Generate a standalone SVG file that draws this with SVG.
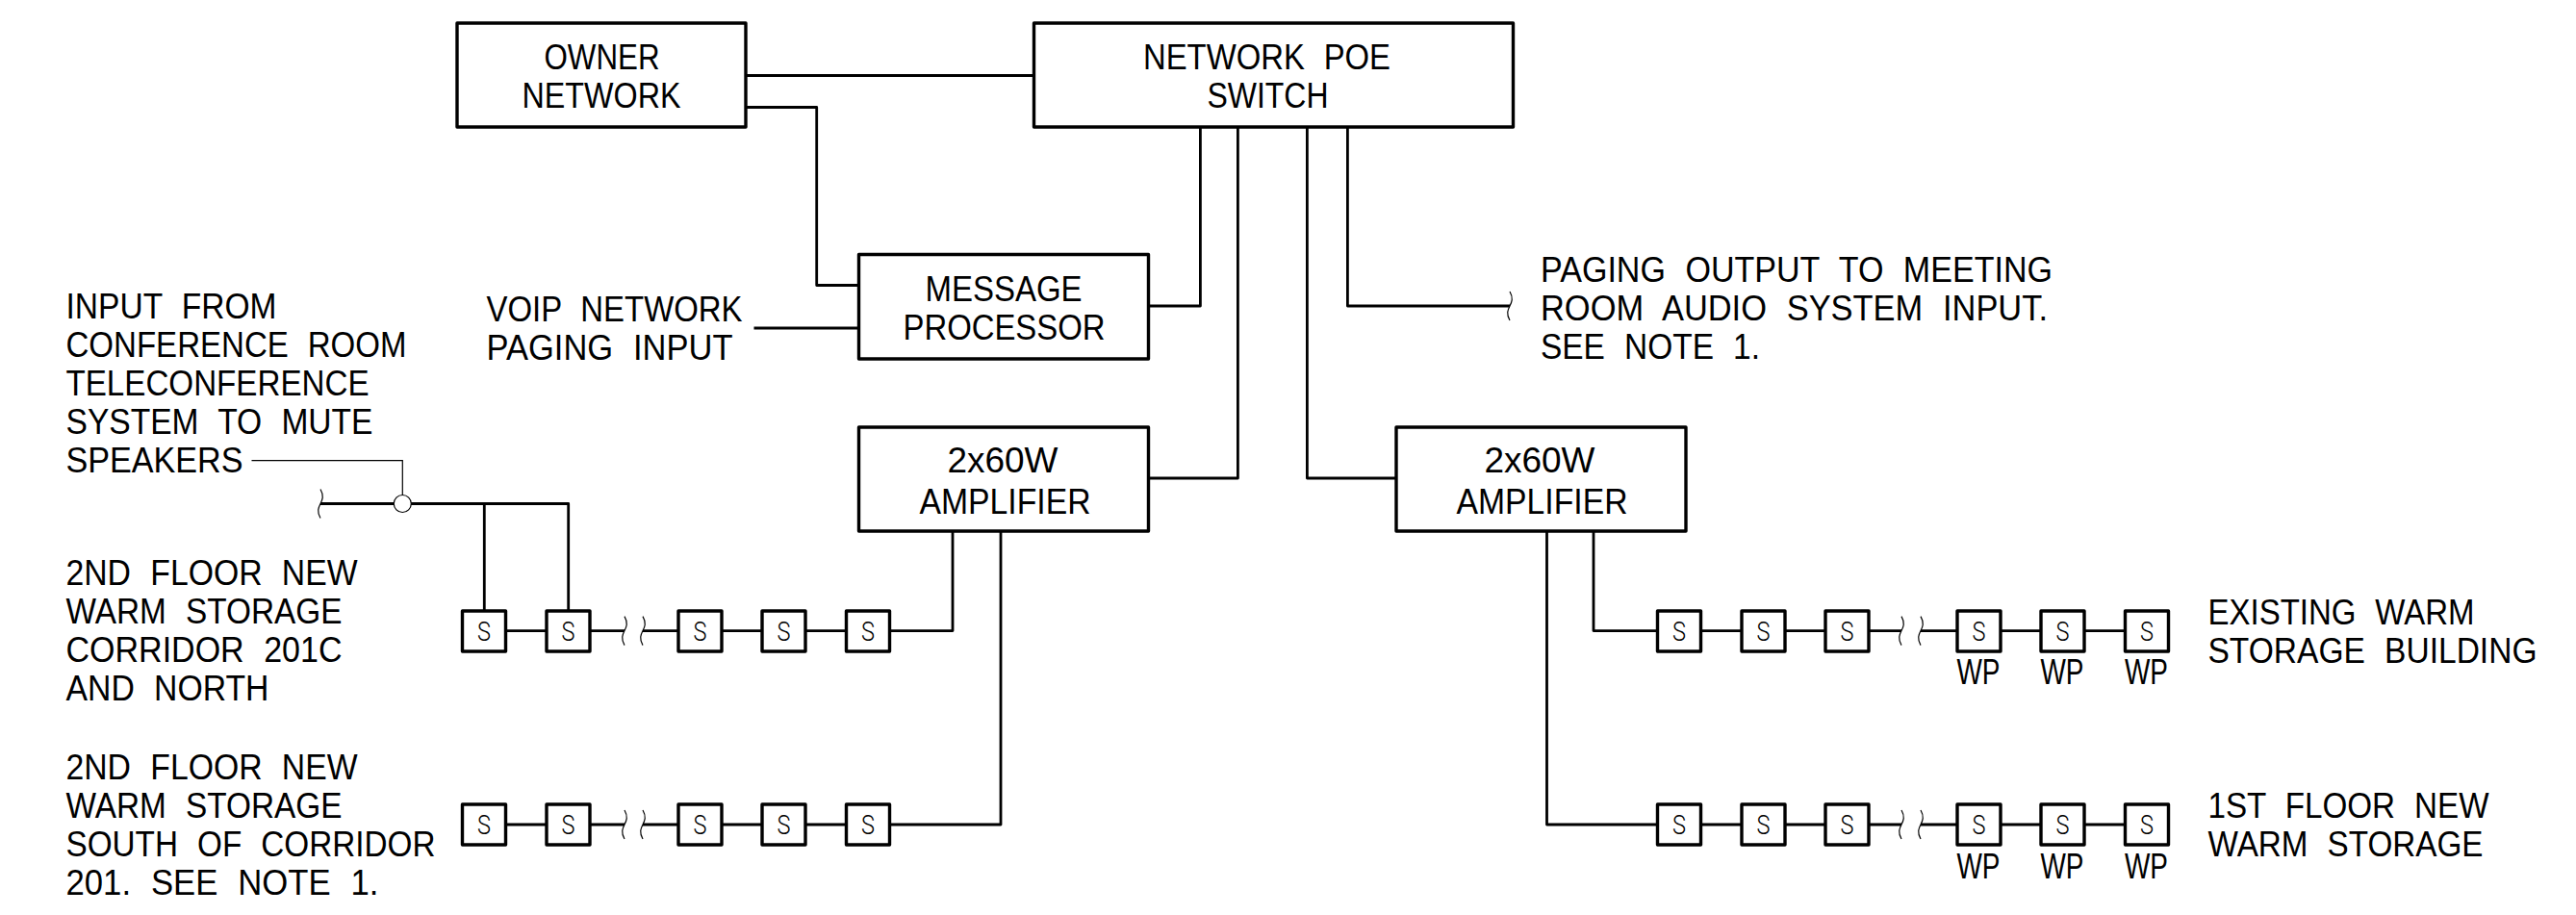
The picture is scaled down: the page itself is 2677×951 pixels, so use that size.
<svg xmlns="http://www.w3.org/2000/svg" width="2677" height="951" viewBox="0 0 2677 951">
<style>
.b{fill:#fff;stroke:#000;stroke-width:3.4;stroke-linejoin:round}
.c{fill:none;stroke:#000;stroke-width:2.8;stroke-linejoin:round}
.t{fill:none;stroke:#000;stroke-width:1.2}
.w{fill:#fff;stroke:#000;stroke-width:1.2}
text{font-family:"Liberation Sans",Arial,sans-serif;font-size:37px;fill:#000;word-spacing:12px;transform:translate(-0.5px,-0.5px)}
.s{font-family:Roboto,"Liberation Sans",sans-serif;font-weight:300;font-size:28px;transform:none}
</style>
<defs>
<path id="br" class="t" d="M0,-15C4,-8 2,-4 0,0S-4,8 0,15"/>
<rect id="sp" class="b" x="0" y="0" width="45" height="42"/>
</defs>
<rect width="2677" height="951" fill="#fff"/>
<g id="connectors">
<path class="c" d="M775,78.500H1074M775,111.500H848.700V296.500H892M1247.400,132V318H1194M783.500,341H892M1286.400,132V497H1194M1358.400,132V497H1451M1400.400,132V318H1569"/>
<path class="c" d="M990,552V655.600H925M1040,552V857H925"/>
<path class="c" d="M1656,552V655.600H1722M1607.500,552V857H1722"/>
<path class="c" d="M333,523.500H590.700V635M503.300,523.500V635"/>
<path class="t" d="M261.500,478.700H418.300V514.500"/>
<circle class="w" cx="418.300" cy="523.500" r="9"/>
<path class="c" d="M526,655.600H568M613,655.600H649M668,655.600H705M750,655.600H792M837,655.600H879"/>
<path class="c" d="M526,857H568M613,857H649M668,857H705M750,857H792M837,857H879"/>
<path class="c" d="M1768,655.600H1810M1855,655.600H1897M1942,655.600H1976M1996,655.600H2034M2079,655.600H2121M2166,655.600H2208"/>
<path class="c" d="M1768,857H1810M1855,857H1897M1942,857H1976M1996,857H2034M2079,857H2121M2166,857H2208"/>
<use href="#br" x="333" y="523.500"/><use href="#br" x="1569" y="318"/>
<use href="#br" x="649" y="655.600"/><use href="#br" x="668" y="655.600"/>
<use href="#br" x="649" y="857"/><use href="#br" x="668" y="857"/>
<use href="#br" x="1976" y="655.600"/><use href="#br" x="1996" y="655.600"/>
<use href="#br" x="1976" y="857"/><use href="#br" x="1996" y="857"/>
</g>
<g id="owner-network"><rect class="b" x="475" y="24" width="300" height="108"/>
<text x="566" y="72.700" textLength="120" lengthAdjust="spacingAndGlyphs">OWNER</text>
<text x="543" y="112.700" textLength="165" lengthAdjust="spacingAndGlyphs">NETWORK</text></g>
<g id="poe-switch"><rect class="b" x="1074.500" y="24" width="498" height="108"/>
<text x="1188.500" y="72.700" textLength="257" lengthAdjust="spacingAndGlyphs">NETWORK POE</text>
<text x="1255" y="112.700" textLength="126" lengthAdjust="spacingAndGlyphs">SWITCH</text></g>
<g id="message-processor"><rect class="b" x="892.500" y="264.500" width="301" height="108.500"/>
<text x="962" y="313" textLength="163" lengthAdjust="spacingAndGlyphs">MESSAGE</text>
<text x="939" y="353" textLength="210" lengthAdjust="spacingAndGlyphs">PROCESSOR</text></g>
<g id="amp-left"><rect class="b" x="892.500" y="444" width="301" height="108"/>
<text x="985" y="491" textLength="115" lengthAdjust="spacingAndGlyphs">2x60W</text>
<text x="956" y="534" textLength="178" lengthAdjust="spacingAndGlyphs">AMPLIFIER</text></g>
<g id="amp-right"><rect class="b" x="1451" y="444" width="301" height="108"/>
<text x="1543" y="491" textLength="115" lengthAdjust="spacingAndGlyphs">2x60W</text>
<text x="1514" y="534" textLength="178" lengthAdjust="spacingAndGlyphs">AMPLIFIER</text></g>
<g id="label-input">
<text x="69" y="331.500" textLength="219" lengthAdjust="spacingAndGlyphs">INPUT FROM</text>
<text x="69" y="371.500" textLength="354" lengthAdjust="spacingAndGlyphs">CONFERENCE ROOM</text>
<text x="69" y="411.500" textLength="315" lengthAdjust="spacingAndGlyphs">TELECONFERENCE</text>
<text x="69" y="451.500" textLength="319" lengthAdjust="spacingAndGlyphs">SYSTEM TO MUTE</text>
<text x="69" y="491.500" textLength="184" lengthAdjust="spacingAndGlyphs">SPEAKERS</text>
</g>
<g id="label-corridor-north">
<text x="69" y="608" textLength="303" lengthAdjust="spacingAndGlyphs">2ND FLOOR NEW</text>
<text x="69" y="648" textLength="287" lengthAdjust="spacingAndGlyphs">WARM STORAGE</text>
<text x="69" y="688" textLength="287" lengthAdjust="spacingAndGlyphs">CORRIDOR 201C</text>
<text x="69" y="728" textLength="211" lengthAdjust="spacingAndGlyphs">AND NORTH</text>
</g>
<g id="label-corridor-south">
<text x="69" y="810.500" textLength="303" lengthAdjust="spacingAndGlyphs">2ND FLOOR NEW</text>
<text x="69" y="850.500" textLength="287" lengthAdjust="spacingAndGlyphs">WARM STORAGE</text>
<text x="69" y="890.500" textLength="384" lengthAdjust="spacingAndGlyphs">SOUTH OF CORRIDOR</text>
<text x="69" y="930.500" textLength="325" lengthAdjust="spacingAndGlyphs">201. SEE NOTE 1.</text>
</g>
<g id="label-voip">
<text x="506" y="334.500" textLength="266" lengthAdjust="spacingAndGlyphs">VOIP NETWORK</text>
<text x="506" y="374.500" textLength="256" lengthAdjust="spacingAndGlyphs">PAGING INPUT</text>
</g>
<g id="label-paging">
<text x="1601.500" y="293.500" textLength="532" lengthAdjust="spacingAndGlyphs">PAGING OUTPUT TO MEETING</text>
<text x="1601.500" y="333.500" textLength="527" lengthAdjust="spacingAndGlyphs">ROOM AUDIO SYSTEM INPUT.</text>
<text x="1601.500" y="373.500" textLength="228" lengthAdjust="spacingAndGlyphs">SEE NOTE 1.</text>
</g>
<g id="label-existing">
<text x="2295" y="649" textLength="277" lengthAdjust="spacingAndGlyphs">EXISTING WARM</text>
<text x="2295" y="689" textLength="342" lengthAdjust="spacingAndGlyphs">STORAGE BUILDING</text>
</g>
<g id="label-first-floor">
<text x="2295" y="850.500" textLength="292" lengthAdjust="spacingAndGlyphs">1ST FLOOR NEW</text>
<text x="2295" y="890.500" textLength="286" lengthAdjust="spacingAndGlyphs">WARM STORAGE</text>
</g>
<g id="s1"><use href="#sp" x="480.500" y="635"/><text class="s" x="496" y="666" textLength="14" lengthAdjust="spacingAndGlyphs">S</text></g>
<g id="s2"><use href="#sp" x="568" y="635"/><text class="s" x="583.500" y="666" textLength="14" lengthAdjust="spacingAndGlyphs">S</text></g>
<g id="s3"><use href="#sp" x="705" y="635"/><text class="s" x="720.500" y="666" textLength="14" lengthAdjust="spacingAndGlyphs">S</text></g>
<g id="s4"><use href="#sp" x="792" y="635"/><text class="s" x="807.500" y="666" textLength="14" lengthAdjust="spacingAndGlyphs">S</text></g>
<g id="s5"><use href="#sp" x="879.500" y="635"/><text class="s" x="895" y="666" textLength="14" lengthAdjust="spacingAndGlyphs">S</text></g>
<g id="s6"><use href="#sp" x="480.500" y="836"/><text class="s" x="496" y="867" textLength="14" lengthAdjust="spacingAndGlyphs">S</text></g>
<g id="s7"><use href="#sp" x="568" y="836"/><text class="s" x="583.500" y="867" textLength="14" lengthAdjust="spacingAndGlyphs">S</text></g>
<g id="s8"><use href="#sp" x="705" y="836"/><text class="s" x="720.500" y="867" textLength="14" lengthAdjust="spacingAndGlyphs">S</text></g>
<g id="s9"><use href="#sp" x="792" y="836"/><text class="s" x="807.500" y="867" textLength="14" lengthAdjust="spacingAndGlyphs">S</text></g>
<g id="s10"><use href="#sp" x="879.500" y="836"/><text class="s" x="895" y="867" textLength="14" lengthAdjust="spacingAndGlyphs">S</text></g>
<g id="s11"><use href="#sp" x="1722.500" y="635"/><text class="s" x="1738" y="666" textLength="14" lengthAdjust="spacingAndGlyphs">S</text></g>
<g id="s12"><use href="#sp" x="1810" y="635"/><text class="s" x="1825.500" y="666" textLength="14" lengthAdjust="spacingAndGlyphs">S</text></g>
<g id="s13"><use href="#sp" x="1897" y="635"/><text class="s" x="1912.500" y="666" textLength="14" lengthAdjust="spacingAndGlyphs">S</text></g>
<g id="s14"><use href="#sp" x="2034" y="635"/><text class="s" x="2049.500" y="666" textLength="14" lengthAdjust="spacingAndGlyphs">S</text><text x="2034" y="711" textLength="45" lengthAdjust="spacingAndGlyphs">WP</text></g>
<g id="s15"><use href="#sp" x="2121" y="635"/><text class="s" x="2136.500" y="666" textLength="14" lengthAdjust="spacingAndGlyphs">S</text><text x="2121" y="711" textLength="45" lengthAdjust="spacingAndGlyphs">WP</text></g>
<g id="s16"><use href="#sp" x="2208.500" y="635"/><text class="s" x="2224" y="666" textLength="14" lengthAdjust="spacingAndGlyphs">S</text><text x="2208.500" y="711" textLength="45" lengthAdjust="spacingAndGlyphs">WP</text></g>
<g id="s17"><use href="#sp" x="1722.500" y="836"/><text class="s" x="1738" y="867" textLength="14" lengthAdjust="spacingAndGlyphs">S</text></g>
<g id="s18"><use href="#sp" x="1810" y="836"/><text class="s" x="1825.500" y="867" textLength="14" lengthAdjust="spacingAndGlyphs">S</text></g>
<g id="s19"><use href="#sp" x="1897" y="836"/><text class="s" x="1912.500" y="867" textLength="14" lengthAdjust="spacingAndGlyphs">S</text></g>
<g id="s20"><use href="#sp" x="2034" y="836"/><text class="s" x="2049.500" y="867" textLength="14" lengthAdjust="spacingAndGlyphs">S</text><text x="2034" y="913" textLength="45" lengthAdjust="spacingAndGlyphs">WP</text></g>
<g id="s21"><use href="#sp" x="2121" y="836"/><text class="s" x="2136.500" y="867" textLength="14" lengthAdjust="spacingAndGlyphs">S</text><text x="2121" y="913" textLength="45" lengthAdjust="spacingAndGlyphs">WP</text></g>
<g id="s22"><use href="#sp" x="2208.500" y="836"/><text class="s" x="2224" y="867" textLength="14" lengthAdjust="spacingAndGlyphs">S</text><text x="2208.500" y="913" textLength="45" lengthAdjust="spacingAndGlyphs">WP</text></g>
</svg>
